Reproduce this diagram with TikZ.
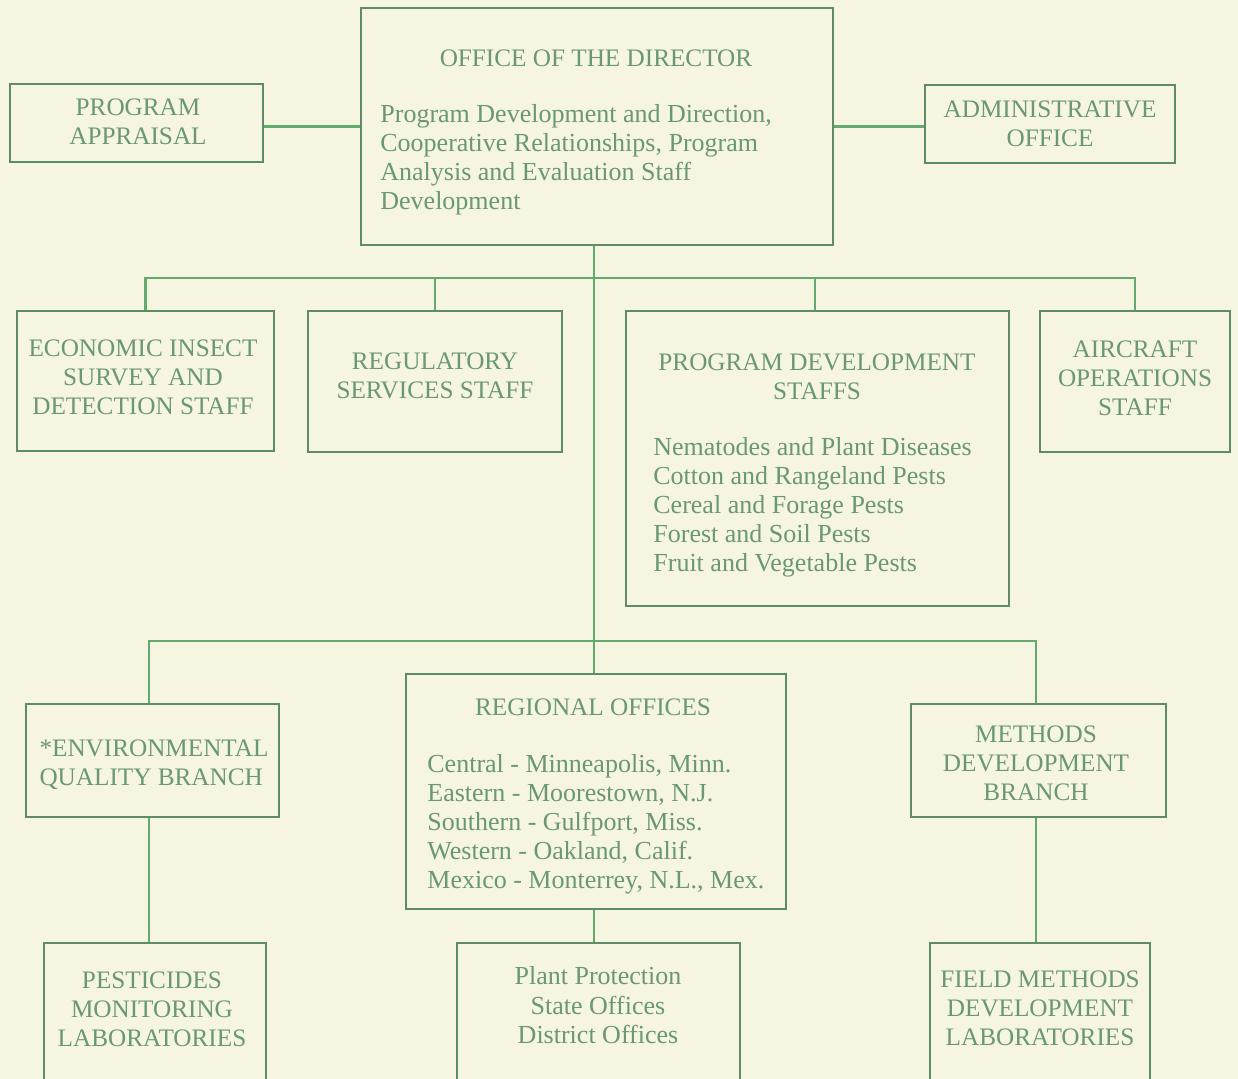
\documentclass[tikz,border=0pt]{standalone}
\usepackage{fontspec}
\setmainfont{Liberation Serif}
\usetikzlibrary{fit}
\definecolor{bgc}{RGB}{246,245,225}
\definecolor{linec}{RGB}{100,170,110}
\definecolor{boxc}{RGB}{95,140,100}
\definecolor{txtc}{RGB}{105,152,114}
\newcommand\ltab[2]{\begin{tabular}[t]{@{}#1@{}}#2\end{tabular}}
\begin{document}
\begin{tikzpicture}[x=0.5pt,y=-0.5pt,
  box/.style={draw=boxc, line width=1pt, inner sep=0pt},
  conn/.style={draw=linec, line width=1.3pt},
  txt/.style={text=txtc, inner sep=0pt, anchor=base, font=\fontsize{13}{14.5}\selectfont},
  capt/.style={txt, font=\fontsize{12.6}{14.5}\selectfont},
  ltxt/.style={txt, anchor=base west}]
\fill[bgc] (0,0) rectangle (1238,1079);
\useasboundingbox (0,0) rectangle (1238,1079);
\clip (0,0) rectangle (1238,1079);

% boxes
\node[box, fit={(361,8) (833,245)}] (dir) {};
\node[box, fit={(10,84) (263,162)}] (appr) {};
\node[box, fit={(925,85) (1175,163)}] (adm) {};
\node[box, fit={(17,311) (274,451)}] (econ) {};
\node[box, fit={(308,311) (562,452)}] (regs) {};
\node[box, fit={(626,311) (1009,606)}] (pds) {};
\node[box, fit={(1040,311) (1230,452)}] (air) {};
\node[box, fit={(26,704) (279,817)}] (env) {};
\node[box, fit={(406,674) (786,909)}] (reg) {};
\node[box, fit={(911,704) (1166,817)}] (meth) {};
\node[box, fit={(44,943) (266,1100)}] (pest) {};
\node[box, fit={(457,943) (740,1100)}] (plant) {};
\node[box, fit={(930,943) (1150,1100)}] (field) {};

% texts
\node[capt] (dirT) at (596,67) {OFFICE OF THE DIRECTOR};
\node[ltxt] (dirB) at (380,123) {\ltab{l}{Program Development and Direction,\\Cooperative Relationships, Program\\Analysis and Evaluation Staff\\Development}};
\node[capt] (apprT) at (138,116) {\ltab{c}{PROGRAM\\APPRAISAL}};
\node[capt] (admT) at (1050,118) {\ltab{c}{ADMINISTRATIVE\\OFFICE}};
\node[capt] (econT) at (143,357) {\ltab{c}{ECONOMIC INSECT\\SURVEY AND\\DETECTION STAFF}};
\node[capt] (regsT) at (435,370) {\ltab{c}{REGULATORY\\SERVICES STAFF}};
\node[capt] (pdsT) at (817,371) {\ltab{c}{PROGRAM DEVELOPMENT\\STAFFS}};
\node[ltxt] (pdsB) at (653,456) {\ltab{l}{Nematodes and Plant Diseases\\Cotton and Rangeland Pests\\Cereal and Forage Pests\\Forest and Soil Pests\\Fruit and Vegetable Pests}};
\node[capt] (airT) at (1135,358) {\ltab{c}{AIRCRAFT\\OPERATIONS\\STAFF}};
\node[capt] (envT) at (154,757) {\ltab{l}{*ENVIRONMENTAL\\QUALITY BRANCH}};
\node[capt] (regT) at (593,716) {REGIONAL OFFICES};
\node[ltxt] (regB) at (427,773) {\ltab{l}{Central - Minneapolis, Minn.\\Eastern - Moorestown, N.J.\\Southern - Gulfport, Miss.\\Western - Oakland, Calif.\\Mexico - Monterrey, N.L., Mex.}};
\node[capt] (methT) at (1036,743) {\ltab{c}{METHODS\\DEVELOPMENT\\BRANCH}};
\node[capt] (pestT) at (152,988) {\ltab{c}{PESTICIDES\\MONITORING\\LABORATORIES}};
\node[txt] (plantT) at (598,985) {\ltab{c}{Plant Protection\\State Offices\\District Offices}};
\node[capt] (fieldT) at (1040,987) {\ltab{c}{FIELD METHODS\\DEVELOPMENT\\LABORATORIES}};

% bus coordinates
\coordinate (trunk) at (594,278);
\coordinate (bus2) at (594,641);

% connectors
\draw[conn] (dir.west) -- (dir.west -| appr.east);
\draw[conn] (dir.east) -- (dir.east -| adm.west);
\draw[conn] (dir.south -| trunk) -- (reg.north -| trunk);
\draw[conn] (econ.north) |- (trunk) -| (air.north);
\draw[conn] (regs.north) -- (regs.north |- trunk);
\draw[conn] ([xshift=-1.25pt]pds.north) -- ([xshift=-1.25pt]pds.north |- trunk);
\draw[conn] ([xshift=-1.75pt]env.north) |- (bus2) -| ([xshift=-1.25pt]meth.north);
\draw[conn] ([xshift=-1.75pt]env.south) -- ([xshift=-1.75pt]env.south |- pest.north);
\draw[conn] (reg.south -| trunk) -- (plant.north -| trunk);
\draw[conn] ([xshift=-1.25pt]meth.south) -- ([xshift=-1.25pt]meth.south |- field.north);
\end{tikzpicture}
\end{document}
